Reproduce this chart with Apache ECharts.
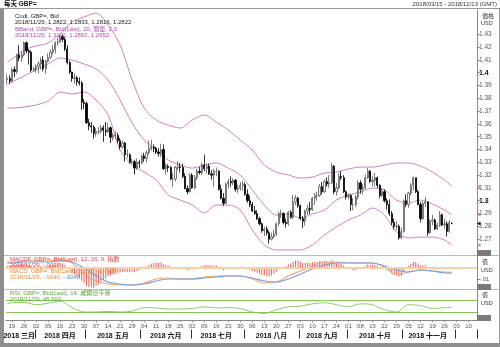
<!DOCTYPE html>
<html><head><meta charset="utf-8">
<script src="https://cdn.jsdelivr.net/npm/echarts@6/dist/echarts.min.js"></script>
<style>html,body{margin:0;padding:0;background:#fff}#c{width:500px;height:347px}</style>
</head><body><div id="c"></div><script>
// ---------- DATA ----------
const firstDay = '2018-03-15', lastDay = '2018-12-13';
// daily candles [open, close, low, high]
const candles = [
[1.3945,1.3955,1.3910,1.3985],[1.3955,1.3935,1.3915,1.3980],[1.3935,1.4025,1.3925,1.4040],[1.4025,1.4010,1.3965,1.4050],[1.4010,1.4140,1.3990,1.4150],
[1.4140,1.4115,1.4090,1.4215],[1.4115,1.4140,1.4085,1.4170],[1.4140,1.4235,1.4130,1.4245],[1.4235,1.4170,1.4150,1.4245],[1.4170,1.4160,1.4065,1.4185],
[1.4160,1.4020,1.4005,1.4175],[1.4020,1.4030,1.4010,1.4045],[1.4030,1.4050,1.4000,1.4065],[1.4050,1.4070,1.3995,1.4090],[1.4070,1.4100,1.4025,1.4120],
[1.4100,1.4030,1.4010,1.4130],[1.4030,1.4090,1.3990,1.4100],[1.4090,1.4120,1.4080,1.4150],[1.4120,1.4160,1.4105,1.4180],[1.4160,1.4180,1.4140,1.4215],
[1.4180,1.4235,1.4150,1.4245],[1.4235,1.4240,1.4210,1.4270],[1.4240,1.4285,1.4235,1.4295],[1.4285,1.4260,1.4240,1.4300],[1.4260,1.4185,1.4170,1.4280],
[1.4185,1.4080,1.4065,1.4215],[1.4080,1.4005,1.3990,1.4095],[1.4005,1.3955,1.3930,1.4010],[1.3955,1.3960,1.3915,1.3995],[1.3960,1.3930,1.3900,1.3975],
[1.3930,1.3920,1.3900,1.3965],[1.3920,1.3770,1.3710,1.3935],[1.3770,1.3760,1.3715,1.3795],[1.3760,1.3610,1.3600,1.3775],[1.3610,1.3585,1.3550,1.3640],
[1.3585,1.3575,1.3530,1.3615],[1.3575,1.3525,1.3485,1.3590],[1.3525,1.3540,1.3500,1.3565],[1.3540,1.3540,1.3515,1.3575],[1.3540,1.3570,1.3525,1.3590],
[1.3570,1.3550,1.3460,1.3590],[1.3550,1.3540,1.3505,1.3615],[1.3540,1.3570,1.3530,1.3610],[1.3570,1.3495,1.3450,1.3580],[1.3495,1.3510,1.3470,1.3530],
[1.3510,1.3510,1.3480,1.3545],[1.3510,1.3470,1.3450,1.3530],[1.3470,1.3420,1.3400,1.3490],[1.3420,1.3450,1.3405,1.3470],[1.3450,1.3360,1.3305,1.3460],
[1.3360,1.3360,1.3335,1.3400],[1.3360,1.3300,1.3290,1.3370],[1.3300,1.3305,1.3285,1.3330],[1.3305,1.3255,1.3205,1.3320],[1.3255,1.3300,1.3240,1.3330],
[1.3300,1.3295,1.3255,1.3320],[1.3295,1.3350,1.3285,1.3360],[1.3350,1.3330,1.3305,1.3375],[1.3330,1.3375,1.3300,1.3395],[1.3375,1.3410,1.3360,1.3470],
[1.3410,1.3420,1.3390,1.3475],[1.3420,1.3410,1.3380,1.3440],[1.3410,1.3380,1.3365,1.3420],[1.3380,1.3370,1.3345,1.3410],[1.3370,1.3400,1.3340,1.3445],
[1.3400,1.3250,1.3240,1.3440],[1.3250,1.3270,1.3205,1.3295],[1.3270,1.3260,1.3225,1.3285],[1.3260,1.3170,1.3160,1.3270],[1.3170,1.3170,1.3105,1.3215],
[1.3170,1.3260,1.3150,1.3270],[1.3260,1.3265,1.3240,1.3310],[1.3265,1.3260,1.3220,1.3295],[1.3260,1.3190,1.3175,1.3290],[1.3190,1.3095,1.3090,1.3215],
[1.3095,1.3070,1.3050,1.3120],[1.3070,1.3200,1.3065,1.3215],[1.3200,1.3100,1.3095,1.3215],[1.3100,1.3180,1.3090,1.3200],[1.3180,1.3230,1.3165,1.3250],
[1.3230,1.3220,1.3205,1.3265],[1.3220,1.3280,1.3200,1.3300],[1.3280,1.3250,1.3230,1.3360],[1.3250,1.3270,1.3215,1.3290],[1.3270,1.3210,1.3200,1.3290],
[1.3210,1.3200,1.3165,1.3240],[1.3200,1.3230,1.3110,1.3250],[1.3230,1.3230,1.3190,1.3260],[1.3230,1.3090,1.3080,1.3240],[1.3090,1.3020,1.3010,1.3125],
[1.3020,1.2980,1.2960,1.3060],[1.2980,1.3130,1.2975,1.3140],[1.3130,1.3150,1.3095,1.3170],[1.3150,1.3140,1.3110,1.3190],[1.3140,1.3160,1.3120,1.3175],
[1.3160,1.3090,1.3070,1.3170],[1.3090,1.3100,1.3060,1.3125],[1.3100,1.3120,1.3080,1.3145],[1.3120,1.3125,1.3080,1.3155],[1.3125,1.3050,1.3040,1.3145],
[1.3050,1.3000,1.2985,1.3090],[1.3000,1.2970,1.2950,1.3040],[1.2970,1.2920,1.2910,1.2990],[1.2920,1.2900,1.2890,1.2960],[1.2900,1.2860,1.2850,1.2925],
[1.2860,1.2820,1.2805,1.2875],[1.2820,1.2765,1.2750,1.2830],[1.2765,1.2780,1.2725,1.2795],[1.2780,1.2750,1.2730,1.2800],[1.2750,1.2700,1.2665,1.2765],
[1.2700,1.2720,1.2690,1.2750],[1.2720,1.2740,1.2705,1.2775],[1.2740,1.2820,1.2725,1.2830],[1.2820,1.2900,1.2800,1.2915],[1.2900,1.2900,1.2865,1.2930],
[1.2900,1.2830,1.2815,1.2910],[1.2830,1.2820,1.2790,1.2860],[1.2820,1.2910,1.2805,1.2920],[1.2910,1.2870,1.2860,1.2925],[1.2870,1.2990,1.2855,1.3045],
[1.2990,1.3020,1.2965,1.3045],[1.3020,1.2960,1.2945,1.3030],[1.2960,1.2860,1.2850,1.2970],[1.2860,1.2840,1.2785,1.2880],[1.2840,1.2920,1.2805,1.2930],
[1.2920,1.2940,1.2890,1.2970],[1.2940,1.2930,1.2895,1.2990],[1.2930,1.3020,1.2920,1.3030],[1.3020,1.3040,1.2965,1.3060],[1.3040,1.3040,1.3000,1.3070],
[1.3040,1.3110,1.3030,1.3130],[1.3110,1.3070,1.3050,1.3145],[1.3070,1.3150,1.3060,1.3165],[1.3150,1.3130,1.3110,1.3180],[1.3130,1.3140,1.3100,1.3200],
[1.3140,1.3270,1.3130,1.3295],[1.3270,1.3070,1.3050,1.3280],[1.3070,1.3100,1.3040,1.3140],[1.3100,1.3190,1.3090,1.3215],[1.3190,1.3180,1.3160,1.3230],
[1.3180,1.3070,1.3060,1.3200],[1.3070,1.3030,1.3010,1.3080],[1.3030,1.3040,1.3010,1.3060],[1.3040,1.2970,1.2920,1.3050],[1.2970,1.2970,1.2925,1.3020],
[1.2970,1.3030,1.2950,1.3045],[1.3030,1.3140,1.3010,1.3160],[1.3140,1.3090,1.3055,1.3160],[1.3090,1.3100,1.3050,1.3130],[1.3100,1.3180,1.3090,1.3205],
[1.3180,1.3230,1.3170,1.3255],[1.3230,1.3150,1.3140,1.3240],[1.3150,1.3160,1.3110,1.3195],[1.3160,1.3180,1.3115,1.3215],[1.3180,1.3120,1.3100,1.3190],
[1.3120,1.3040,1.3020,1.3130],[1.3040,1.3070,1.3030,1.3100],[1.3070,1.3000,1.2985,1.3090],[1.3000,1.2970,1.2930,1.3020],[1.2970,1.2900,1.2880,1.3010],
[1.2900,1.2830,1.2810,1.2920],[1.2830,1.2800,1.2775,1.2860],[1.2800,1.2800,1.2770,1.2840],[1.2800,1.2710,1.2695,1.2815],[1.2710,1.2760,1.2700,1.2790],
[1.2760,1.3000,1.2750,1.3010],[1.3000,1.2970,1.2950,1.3050],[1.2970,1.3060,1.2945,1.3070],[1.3060,1.3120,1.3040,1.3135],[1.3120,1.3180,1.3080,1.3190],
[1.3180,1.3070,1.3060,1.3180],[1.3070,1.2970,1.2965,1.3085],[1.2970,1.2860,1.2830,1.2990],[1.2860,1.2980,1.2850,1.2995],[1.2980,1.2990,1.2950,1.3030],
[1.2990,1.2750,1.2725,1.2995],[1.2750,1.2840,1.2740,1.2855],[1.2840,1.2850,1.2810,1.2890],[1.2850,1.2780,1.2770,1.2860],[1.2780,1.2810,1.2770,1.2830],
[1.2810,1.2890,1.2795,1.2920],[1.2890,1.2810,1.2800,1.2900],[1.2810,1.2820,1.2780,1.2860],[1.2820,1.2760,1.2720,1.2840],[1.2760,1.2830,1.2750,1.2850],
[1.2822,1.2822,1.2816,1.2833]
];
// indicator values read at these trading-day positions
const sampleAt = [0,2,7,12,17,22,27,32,37,42,47,52,57,62,67,72,77,82,87,92,97,102,107,112,117,122,127,132,137,142,147,152,157,162,167,172,177,182,185];
const bbUpper = [1.4084,1.4107,1.4177,1.4209,1.4232,1.4302,1.4396,1.4435,1.4466,1.4373,1.4216,1.3943,1.3724,1.3630,1.3591,1.3568,1.3630,1.3670,1.3615,1.3552,1.3474,1.3396,1.3279,1.3224,1.3201,1.3177,1.3185,1.3216,1.3224,1.3248,1.3263,1.3263,1.3279,1.3295,1.3295,1.3271,1.3224,1.3162,1.3112];
const bbMiddle = [1.3904,1.3927,1.3974,1.4021,1.4068,1.4115,1.4099,1.4068,1.4029,1.3943,1.3787,1.3607,1.3474,1.3396,1.3318,1.3279,1.3255,1.3279,1.3295,1.3255,1.3201,1.3084,1.2966,1.2888,1.2896,1.2865,1.2896,1.2927,1.3005,1.3045,1.3068,1.3099,1.3084,1.3005,1.2982,1.3005,1.2974,1.2927,1.2892];
const bbLower = [1.3724,1.3724,1.3732,1.3748,1.3779,1.3849,1.3834,1.3849,1.3787,1.3670,1.3396,1.3279,1.3224,1.3162,1.3045,1.3005,1.2966,1.2904,1.2966,1.2966,1.2927,1.2771,1.2654,1.2615,1.2615,1.2615,1.2654,1.2732,1.2795,1.2849,1.2888,1.2943,1.2888,1.2755,1.2709,1.2716,1.2716,1.2693,1.2652];
const macdLine = [0.0050,0.0050,0.0059,0.0059,0.0059,0.0077,0.0042,-0.0056,-0.0118,-0.0144,-0.0153,-0.0153,-0.0135,-0.0100,-0.0091,-0.0100,-0.0100,-0.0082,-0.0073,-0.0073,-0.0073,-0.0100,-0.0135,-0.0127,-0.0073,-0.0029,0.0015,0.0050,0.0050,0.0042,0.0042,0.0042,0.0006,-0.0065,-0.0038,-0.0020,-0.0029,-0.0038,-0.0040];
const macdSignal = [0.0042,0.0042,0.0050,0.0050,0.0050,0.0059,0.0050,-0.0003,-0.0073,-0.0127,-0.0144,-0.0153,-0.0144,-0.0118,-0.0100,-0.0100,-0.0100,-0.0091,-0.0082,-0.0073,-0.0073,-0.0091,-0.0118,-0.0127,-0.0100,-0.0056,-0.0012,0.0024,0.0042,0.0042,0.0042,0.0042,0.0015,-0.0020,-0.0038,-0.0020,-0.0029,-0.0047,-0.0048];
const rsiVals = [58,62,63,55,60,67,45,30,30,32,30,33,45,44,40,40,42,48,44,45,42,30,25,38,48,50,58,62,55,48,58,55,38,30,55,52,42,45,46];
// daily MACD histogram (MACDF)
const macdHist = [
0.0004,0.0005,
0.0006,0.0007,0.0008,0.0008,0.0007, 0.0009,0.0008,0.0006,0.0003,0.0002, 0.0001,0.0001,0.0002,0.0001,0.0002, 0.0003,0.0004,0.0005,0.0007,0.0008,
0.0011,0.0011,0.0007,0.0001,-0.0006, -0.0014,-0.0019,-0.0024,-0.0028,-0.0037, -0.0043,-0.0051,-0.0055,-0.0056,-0.0057, -0.0052,-0.0047,-0.0040,-0.0035,-0.0030,
-0.0024,-0.0022,-0.0019,-0.0016,-0.0015, -0.0014,-0.0012,-0.0013,-0.0012,-0.0013, -0.0012,-0.0012,-0.0009,-0.0007,-0.0003, 0.0000,0.0003,0.0007,0.0010,0.0012,
0.0013,0.0013,0.0014,0.0009,0.0007, 0.0005,0.0001,-0.0002,0.0000,0.0001, 0.0001,-0.0001,-0.0005,-0.0008,-0.0005, -0.0006,-0.0004,-0.0001,0.0001,0.0004,
0.0005,0.0006,0.0006,0.0005,0.0005, 0.0005,0.0001,-0.0003,-0.0007,-0.0004, -0.0002,-0.0001,0.0000,-0.0001,-0.0001, 0.0000,0.0000,-0.0002,-0.0005,-0.0007,
-0.0010,-0.0012,-0.0015,-0.0018,-0.0022, -0.0022,-0.0023,-0.0025,-0.0022,-0.0018, -0.0012,-0.0005,0.0000,0.0002,0.0004, 0.0008,0.0010,0.0015,0.0019,0.0019,
0.0016,0.0013,0.0013,0.0013,0.0012, 0.0014,0.0015,0.0015,0.0017,0.0016, 0.0017,0.0016,0.0015,0.0019,0.0013, 0.0011,0.0012,0.0010,0.0005,0.0001,
-0.0001,-0.0005,-0.0008,-0.0007,-0.0002, -0.0002,-0.0001,0.0003,0.0007,0.0007, 0.0007,0.0007,0.0005,0.0001,0.0000, -0.0004,-0.0007,-0.0011,-0.0016,-0.0019,
-0.0021,-0.0025,-0.0024,-0.0010,-0.0003, 0.0004,0.0010,0.0015,0.0015,0.0011, 0.0005,0.0006,0.0006,-0.0002,-0.0003, -0.0004,-0.0006,-0.0006,-0.0004,-0.0004,
-0.0003,-0.0005,-0.0003,-0.0002
];
const priceTicks = [1.27,1.28,1.29,1.30,1.31,1.32,1.33,1.34,1.35,1.36,1.37,1.38,1.39,1.40,1.41,1.42,1.43];
const macdTicks = [-0.01];
const rsiBands = [70,30];
const monthNames = ['一月','二月','三月','四月','五月','六月','七月','八月','九月','十月','十一月','十二月'];

// ---------- CATEGORIES (trading days) ----------
const days = [];
for (let d = new Date(firstDay + 'T00:00:00Z'); d <= new Date(lastDay + 'T00:00:00Z'); d.setUTCDate(d.getUTCDate() + 1)) {
  const w = d.getUTCDay(); if (w > 0 && w < 6) days.push(d.toISOString().slice(0, 10));
}
const isMonday = v => new Date(v + 'T00:00:00Z').getUTCDay() === 1;
const monthStart = new Set(), monthMid = new Set();
{ const groups = {}; days.forEach((d, i) => { const k = d.slice(0, 7); (groups[k] = groups[k] || []).push(i); });
  Object.values(groups).forEach((g, j) => { if (j > 0) monthStart.add(g[0]); if (g.length >= 10) monthMid.add(g[Math.floor((g.length - 1) / 2)]); }); }

const FONT = '"Liberation Sans","Noto Sans CJK TC",sans-serif';
const pts = arr => sampleAt.map((k, i) => [days[k], arr[i]]);
const L = 6, R = 23;
const G0 = { top: 10, height: 245 }, G1 = { top: 255.5, height: 33.5 }, G2 = { top: 289.5, height: 31 };
const BB = '#d07fc4', AX = '#8a8a8a';

const hiddenX = gi => ({ type: 'category', gridIndex: gi, data: days, boundaryGap: true, axisLine: { show: false }, axisTick: { show: false }, axisLabel: { show: false } });
const fmtPrice = v => { const s = (+v).toFixed(2).replace(/0$/, ''); return (s === '1.3' || s === '1.4') ? '{b|' + s + '}' : s; };

const chart = echarts.init(document.getElementById('c'), null, { renderer: 'canvas' });
const lineS = (name, xi, yi, data, color, w) => ({ name, type: 'line', xAxisIndex: xi, yAxisIndex: yi, data, smooth: 0.3, showSymbol: false, connectNulls: true, lineStyle: { color, width: w || 1 }, silent: true, z: 3 });

const txt = (id, x, y, t, opt) => Object.assign({ id, type: 'text', x, y, style: Object.assign({ text: t, font: '6px ' + FONT, fill: '#222' }, opt || {}) , z: 10 });
const baseGraphic = [
  { id: 'fl', type: 'rect', shape: { x: 0, y: 8, width: 4, height: 339 }, style: { fill: '#8e8e8e' } },
  { id: 'fb', type: 'rect', shape: { x: 0, y: 343, width: 500, height: 4 }, style: { fill: '#8e8e8e' } },
  { id: 'ft', type: 'rect', shape: { x: 0, y: 8, width: 500, height: 1 }, style: { fill: '#9a9a9a' } },
  { id: 'fr', type: 'rect', shape: { x: 499, y: 8, width: 1, height: 339 }, style: { fill: '#9a9a9a' } },
  { id: 's1', type: 'rect', shape: { x: 4, y: G1.top - 0.5, width: 496, height: 1 }, style: { fill: '#b8b8b8' } },
  { id: 's2', type: 'rect', shape: { x: 4, y: G2.top - 0.5, width: 496, height: 1 }, style: { fill: '#b8b8b8' } },
  txt('t1', 4, 1, '每天 GBP=', { font: 'bold 6.5px ' + FONT, fill: '#111' }),
  txt('t2', 497, 1, '2018/03/15 - 2018/12/13 (GMT)', { font: '6px ' + FONT, fill: '#333', align: 'right' }),
  txt('l1', 15, 13, 'Cndl, GBP=, Bid'),
  txt('l2', 15, 19.5, '2018/11/29, 1.2822, 1.2833, 1.2816, 1.2822'),
  txt('l3', 15, 26, 'BBand, GBP=, Bid(Last), 20, 簡單, 2.0', { fill: '#b04aa6' }),
  txt('l4', 15, 32, '2018/11/29, 1.3112, 1.2892, 1.2652', { fill: '#b04aa6' }),
  txt('m1', 10, 256.5, 'MACDF, GBP=, Bid(Last), 12, 26, 9, 指數', { fill: '#e8423c' }),
  txt('m2', 10, 262.5, '2018/11/29, -.0007', { fill: '#e8423c' }),
  txt('m3', 10, 268.5, 'MACD, GBP=, Bid(Last), 12, 26, 9, 指數', { fill: '#f08a3c' }),
  { id: 'm4', type: 'text', x: 10, y: 274.5, z: 10, style: { text: '{a|2018/11/29, -.0040, }{b|-.0048}', font: '6px ' + FONT, rich: { a: { fill: '#f08a3c', font: '6px ' + FONT }, b: { fill: '#4f86e0', font: '6px ' + FONT } } } },
  txt('r1', 10, 290.5, 'RSI, GBP=, Bid(Last), 14, 威爾德平滑', { fill: '#5aa832' }),
  txt('r2', 10, 296.5, '2018/11/29, 45.993', { fill: '#5aa832' }),
  txt('a1', 482, 13, '價格', { font: '6px ' + FONT, fill: '#333' }),
  txt('a2', 481, 21, 'USD', { font: '5.5px ' + FONT, fill: '#333' }),
  txt('a3', 482, 259, '值', { font: '6px ' + FONT, fill: '#333' }),
  txt('a4', 481, 268, 'USD', { font: '5.5px ' + FONT, fill: '#333' }),
  txt('a5', 482, 292, '值', { font: '6px ' + FONT, fill: '#333' }),
  txt('a6', 481, 301, 'USD', { font: '5.5px ' + FONT, fill: '#333' }),
  { id: 'b1', type: 'rect', shape: { x: 477, y: 250, width: 14, height: 6 }, style: { fill: '#7a7a7a' }, z: 10 },
  { id: 'b2', type: 'rect', shape: { x: 477, y: 284, width: 14, height: 6 }, style: { fill: '#7a7a7a' }, z: 10 },
  { id: 'b3', type: 'rect', shape: { x: 477, y: 315, width: 14, height: 6 }, style: { fill: '#7a7a7a' }, z: 10 }
];

const option = {
  animation: false,
  backgroundColor: '#ffffff',
  textStyle: { fontFamily: FONT },
  grid: [
    { left: L, right: R, top: G0.top, height: G0.height },
    { left: L, right: R, top: G1.top, height: G1.height },
    { left: L, right: R, top: G2.top, height: G2.height }
  ],
  xAxis: [
    hiddenX(0), hiddenX(1),
    { type: 'category', gridIndex: 2, data: days, boundaryGap: true,
      axisLine: { show: true, lineStyle: { color: AX, width: 1 } },
      axisTick: { show: true, alignWithLabel: true, length: 2, interval: (i, v) => isMonday(v), lineStyle: { color: '#999' } },
      axisLabel: { interval: (i, v) => isMonday(v), formatter: v => v.slice(8, 10), fontSize: 6, color: '#555', margin: 3, fontFamily: FONT } },
    { type: 'category', gridIndex: 2, data: days, boundaryGap: true, position: 'bottom', offset: 9,
      axisLine: { show: false },
      axisTick: { show: true, inside: false, length: 9, interval: i => monthStart.has(i), lineStyle: { color: '#333', width: 1 } },
      axisLabel: { interval: i => monthMid.has(i), formatter: v => v.slice(0, 4) + ' ' + monthNames[+v.slice(5, 7) - 1], fontSize: 7, fontWeight: 'bold', color: '#111', margin: 3, fontFamily: FONT } }
  ],
  yAxis: [
    { type: 'value', gridIndex: 0, position: 'right', min: 1.2576, max: 1.449, scale: true,
      axisLine: { show: true, lineStyle: { color: AX } }, splitLine: { show: false },
      axisTick: { show: true, length: 2.5, customValues: priceTicks, lineStyle: { color: '#777' } },
      axisLabel: { customValues: priceTicks, formatter: fmtPrice, fontSize: 6.5, color: '#555', margin: 2, fontFamily: FONT,
        rich: { b: { fontSize: 7, fontWeight: 'bold', color: '#111', fontFamily: FONT } } } },
    { type: 'value', gridIndex: 1, position: 'right', min: -0.01884, max: 0.01079,
      axisLine: { show: true, lineStyle: { color: AX } }, splitLine: { show: false },
      axisTick: { show: true, length: 2.5, customValues: macdTicks, lineStyle: { color: '#777' } },
      axisLabel: { customValues: macdTicks, formatter: v => (v < 0 ? '-' : '') + Math.abs(v).toFixed(2).replace(/^0/, ''), fontSize: 6, color: '#555', margin: 2, fontFamily: FONT } },
    { type: 'value', gridIndex: 1, position: 'right', min: -0.0060, max: 0.0033, show: false },
    { type: 'value', gridIndex: 2, position: 'right', min: 1, max: 107,
      axisLine: { show: true, lineStyle: { color: AX } }, splitLine: { show: false }, axisTick: { show: false }, axisLabel: { show: false } }
  ],
  series: [
    lineS('BB upper', 0, 0, pts(bbUpper), BB),
    lineS('BB middle', 0, 0, pts(bbMiddle), BB),
    lineS('BB lower', 0, 0, pts(bbLower), BB),
    { name: 'Cndl', type: 'candlestick', xAxisIndex: 0, yAxisIndex: 0, data: candles, barWidth: 1.7, z: 4, silent: true,
      itemStyle: { color: '#f2f2f2', color0: '#000000', borderColor: '#5a5a5a', borderColor0: '#000000', borderWidth: 0.8 } },
    { name: 'MACDF', type: 'bar', xAxisIndex: 1, yAxisIndex: 2, data: macdHist, barWidth: 1, silent: true, z: 2,
      itemStyle: { color: '#ee5a57' },
      markLine: { silent: true, symbol: 'none', label: { show: false }, lineStyle: { color: '#fbcfa6', width: 2, type: 'solid' }, data: [{ yAxis: 0 }] } },
    lineS('MACD', 1, 1, pts(macdLine), '#f6a46a', 1.1),
    lineS('Signal', 1, 1, pts(macdSignal), '#6e9fe8', 1.1),
    Object.assign(lineS('RSI', 2, 3, pts(rsiVals), '#92c86a', 1), {
      markLine: { silent: true, symbol: 'none', label: { show: false }, lineStyle: { color: '#86c857', width: 1.2, type: 'solid' }, data: rsiBands.map(v => ({ yAxis: v })) } })
  ],
  graphic: { elements: baseGraphic }
};
chart.setOption(option);

// current-value markers on the price axis
const last = candles[candles.length - 1];
const marks = [[bbUpper[bbUpper.length - 1], BB], [bbMiddle[bbMiddle.length - 1], BB], [last[1], '#111'], [bbLower[bbLower.length - 1], BB]];
const extra = marks.map((m, i) => {
  const y = chart.convertToPixel({ yAxisIndex: 0 }, m[0]);
  const x = 500 - R;
  return { id: 'mk' + i, type: 'polygon', shape: { points: [[x, y], [x + 3.5, y - 2], [x + 3.5, y + 2]] }, style: { fill: m[1] }, z: 11 };
});
chart.setOption({ graphic: { elements: baseGraphic.concat(extra) } });
</script></body></html>
